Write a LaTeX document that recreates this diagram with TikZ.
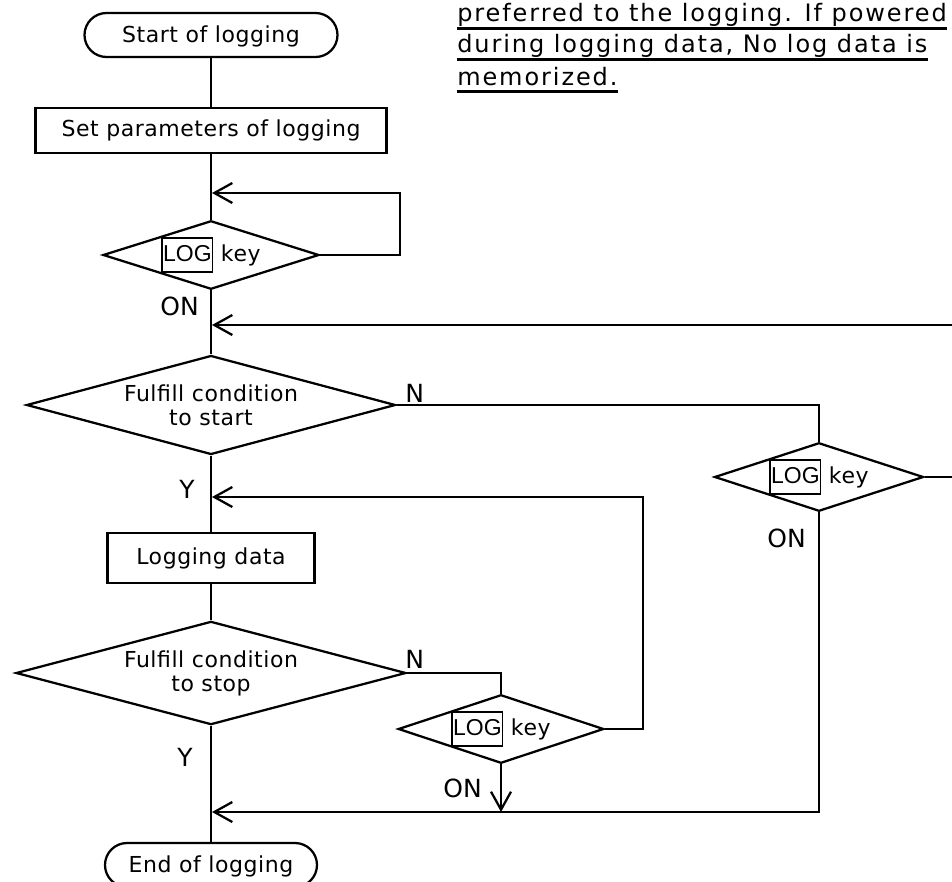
\documentclass[tikz,border=0pt]{standalone}
\usepackage{fontspec}
\setmainfont{DejaVu Sans}[LetterSpace=2.5]
\newfontfamily\notefont{DejaVu Sans}[LetterSpace=8]
\newfontfamily\labelfont{DejaVu Sans}
\newfontfamily\logfont{Liberation Sans}
\usetikzlibrary{shapes.geometric,arrows.meta,calc}

% one drawing unit = 0.75pt
\newcommand\pxl[1]{#1*0.75pt}
\newcommand\boxtext{\fontsize{16.5pt}{18pt}\selectfont}
\newcommand\lbltext{\labelfont\fontsize{18.75pt}{20pt}\selectfont}
\newcommand\notetext{\notefont\fontsize{18pt}{24pt}\selectfont}
% the framed key name inside the decision diamonds
\newcommand\LOGkey{{\setlength\fboxsep{0pt}\setlength\fboxrule{1.3pt}%
  \fbox{\logfont\fontsize{17.25pt}{18pt}\selectfont\rule[-7pt]{0pt}{24pt}LOG}}}

\begin{document}
\begin{tikzpicture}[x=0.75pt,y=-0.75pt,
  flow/.style={line width=1.7pt},
  arr/.style={flow,-{Straight Barb[length=13.5pt,width=15pt]}},
  term/.style={draw,flow,rectangle,rounded corners=16.5pt,minimum height=\pxl{44},inner sep=0pt,
    text height=11.5pt,text depth=0pt,font=\boxtext},
  proc/.style={draw,flow,rectangle,inner sep=0pt,font=\boxtext},
  decision/.style={draw,flow,diamond,aspect=3,inner sep=0pt,align=center,font=\boxtext},
  lbl/.style={inner sep=0pt,font=\lbltext},
  note/.style={inner sep=0pt,font=\notetext,anchor=base west},
  uline/.style={line width=1.7pt}]

\fill[white] (0,0) rectangle (952,881);
\useasboundingbox (0,0) rectangle (952,881);
\clip (0,0) rectangle (952,881);

% note text (underlined)
\node[note] (note1) at (457,22) {preferred to the logging. If powered\hspace{0.4em}};
\node[note] (note2) at (457,53) {during logging data, No log data is\hspace{0.4em}};
\node[note] (note3) at (457,85) {memorized.};
\foreach \n in {note1,note2,note3}
  \draw[uline] ($(\n.base west)+(0,6.5)$) -- ($(\n.base east)+(0,6.5)$);

% flow chart nodes
\node[term,minimum width=\pxl{253}] (start) at (211,35) {Start of logging};
\node[proc,minimum width=\pxl{351},minimum height=\pxl{45}] (params) at (211,130.5) {Set parameters of logging};
\node[decision,minimum width=\pxl{216},minimum height=\pxl{66}] (key1) at (211,255) {\LOGkey{} key};
\node[decision,minimum width=\pxl{369},minimum height=\pxl{96}] (cstart) at (211,405) {Fulfill condition\\to start};
\node[decision,minimum width=\pxl{209},minimum height=\pxl{66}] (key2) at (819,477) {\LOGkey{} key};
\node[proc,minimum width=\pxl{207},minimum height=\pxl{50}] (logdata) at (211,558) {Logging data};
\node[decision,minimum width=\pxl{390},minimum height=\pxl{95}] (cstop) at (211,673) {Fulfill condition\\to stop};
\node[decision,minimum width=\pxl{204},minimum height=\pxl{66}] (key3) at (501,729) {\LOGkey{} key};
\node[term,minimum width=\pxl{212}] (end) at (211,865) {End of logging};

% junctions on the main line
\coordinate (j1) at (212,193);
\coordinate (j2) at (212,325);
\coordinate (j3) at (212,497);
\coordinate (j4) at (212,812);

% connectors
\draw[flow] (start) -- (params);
\draw[flow] (params) -- (key1);
\draw[arr] (key1.east) -- ++(80,0) |- (j1);
\draw[flow] (key1) -- (cstart);
\draw[arr] (key2.east) -- ++(60,0) |- (j2);
\draw[flow] (cstart.east) -| (key2.north);
\draw[flow] (cstart) -- (logdata);
\draw[flow] (logdata) -- (cstop);
\draw[flow] (cstop.east) -| (key3.north);
\draw[arr] (key3.east) -- ++(38,0) |- (j3);
\draw[arr] (key3.south) -- (key3.south |- j4);
\draw[arr] (key2.south) |- (j4);
\draw[flow] (cstop) -- (end);

% branch labels
\node[lbl,anchor=base east] (on1) at (199,315) {ON};
\node[lbl,anchor=base west] (no1) at (405,402) {N};
\node[lbl,anchor=base east] (yes1) at (195,498) {Y};
\node[lbl,anchor=base east] (on2) at (806,547) {ON};
\node[lbl,anchor=base west] (no2) at (405,668) {N};
\node[lbl,anchor=base east] (on3) at (482,797) {ON};
\node[lbl,anchor=base east] (yes2) at (193,766) {Y};
\end{tikzpicture}
\end{document}
